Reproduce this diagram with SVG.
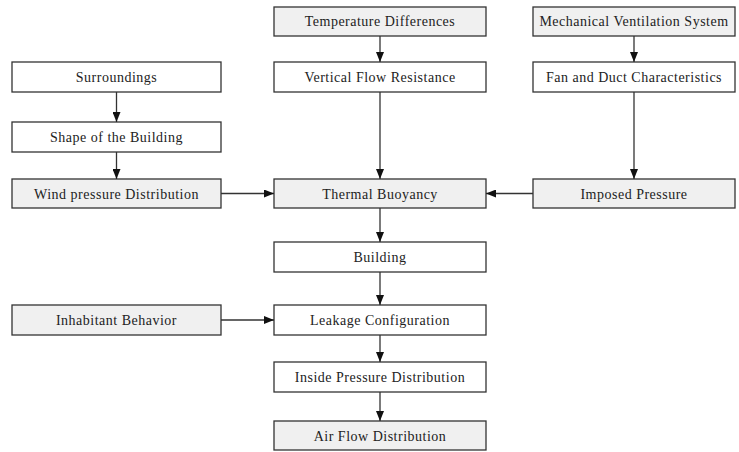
<svg xmlns="http://www.w3.org/2000/svg" width="739" height="452" viewBox="0 0 739 452">
<style>
.b{stroke:#333;stroke-width:1.3}
.g{fill:#f0f0f0}
.w{fill:#fff}
text{font-family:"Liberation Serif","Times New Roman",serif;font-size:14px;letter-spacing:0.5px;fill:#222;text-anchor:middle}
.c line{stroke:#333;stroke-width:1.3}
</style>
<defs>
<marker id="ah" viewBox="0 0 10 8" refX="10" refY="4" markerWidth="10" markerHeight="8" markerUnits="userSpaceOnUse" orient="auto">
<path d="M0,0 L10,4 L0,8 Z" fill="#111"/>
</marker>
</defs>
<rect width="739" height="452" fill="#fff"/>
<g id="n-temp"><rect class="b g" x="274" y="7" width="212" height="29"/><text x="380" y="26">Temperature Differences</text></g>
<g id="n-mech"><rect class="b g" x="533" y="7" width="202" height="29"/><text x="634" y="26">Mechanical Ventilation System</text></g>
<g id="n-surr"><rect class="b w" x="12" y="62" width="209" height="30"/><text x="116.5" y="82">Surroundings</text></g>
<g id="n-vert"><rect class="b w" x="274" y="62" width="212" height="30"/><text x="380" y="82">Vertical Flow Resistance</text></g>
<g id="n-fan"><rect class="b w" x="533" y="62" width="202" height="30"/><text x="634" y="82">Fan and Duct Characteristics</text></g>
<g id="n-shape"><rect class="b w" x="12" y="122" width="209" height="30"/><text x="116.5" y="142">Shape of the Building</text></g>
<g id="n-wind"><rect class="b g" x="12" y="179" width="209" height="29"/><text x="116.5" y="198.5">Wind pressure Distribution</text></g>
<g id="n-therm"><rect class="b g" x="274" y="179" width="212" height="29"/><text x="380" y="198.5">Thermal Buoyancy</text></g>
<g id="n-imp"><rect class="b g" x="533" y="179" width="202" height="29"/><text x="634" y="198.5">Imposed Pressure</text></g>
<g id="n-bldg"><rect class="b w" x="274" y="242" width="212" height="30"/><text x="380" y="262">Building</text></g>
<g id="n-inh"><rect class="b g" x="12" y="305" width="209" height="30"/><text x="116.5" y="325">Inhabitant Behavior</text></g>
<g id="n-leak"><rect class="b w" x="274" y="305" width="212" height="30"/><text x="380" y="325">Leakage Configuration</text></g>
<g id="n-inside"><rect class="b w" x="274" y="362" width="212" height="30"/><text x="380" y="382">Inside Pressure Distribution</text></g>
<g id="n-air"><rect class="b g" x="274" y="421" width="212" height="29"/><text x="380" y="440.5">Air Flow Distribution</text></g>
<g id="connectors" class="c">
<line x1="380" y1="36" x2="380" y2="62" marker-end="url(#ah)"/>
<line x1="634" y1="36" x2="634" y2="62" marker-end="url(#ah)"/>
<line x1="116.5" y1="92" x2="116.5" y2="122" marker-end="url(#ah)"/>
<line x1="116.5" y1="152" x2="116.5" y2="179" marker-end="url(#ah)"/>
<line x1="380" y1="92" x2="380" y2="179" marker-end="url(#ah)"/>
<line x1="634" y1="92" x2="634" y2="179" marker-end="url(#ah)"/>
<line x1="221" y1="193.5" x2="274" y2="193.5" marker-end="url(#ah)"/>
<line x1="533" y1="193.5" x2="486" y2="193.5" marker-end="url(#ah)"/>
<line x1="380" y1="208" x2="380" y2="242" marker-end="url(#ah)"/>
<line x1="380" y1="272" x2="380" y2="305" marker-end="url(#ah)"/>
<line x1="221" y1="320" x2="274" y2="320" marker-end="url(#ah)"/>
<line x1="380" y1="335" x2="380" y2="362" marker-end="url(#ah)"/>
<line x1="380" y1="392" x2="380" y2="421" marker-end="url(#ah)"/>
</g>
</svg>
